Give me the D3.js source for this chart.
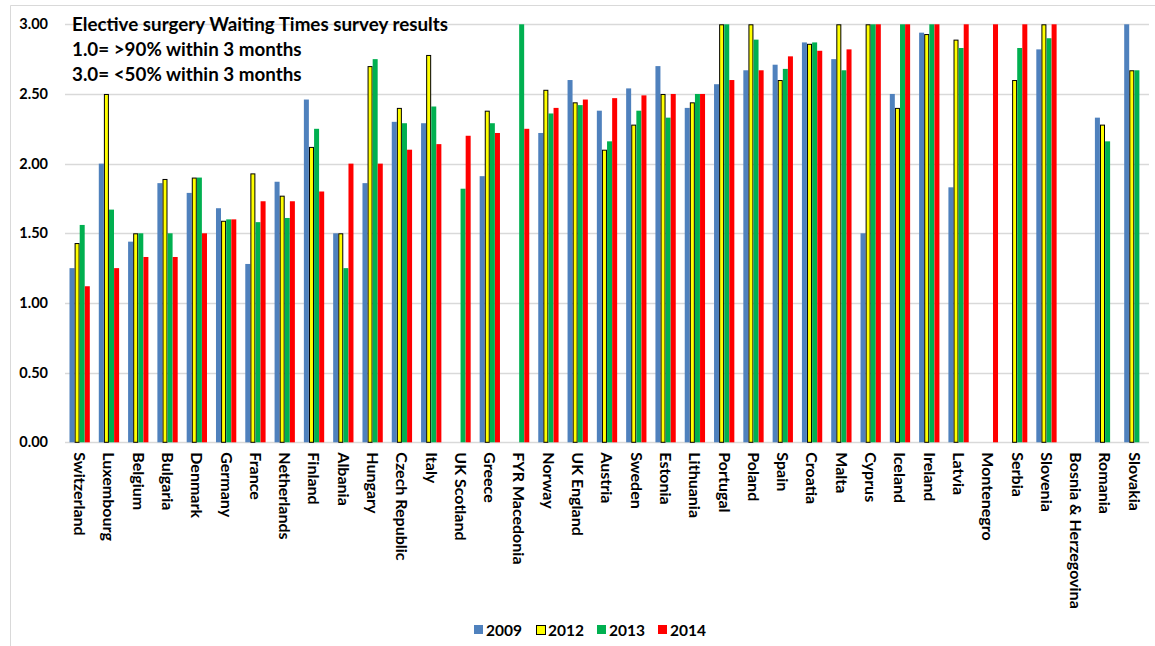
<!DOCTYPE html>
<html><head><meta charset="utf-8">
<script src="https://cdn.jsdelivr.net/npm/d3@7"></script>
<style>
body{margin:0;background:#fff;}
svg{display:block;}
text{font-family:Lato,"Open Sans",sans-serif;font-weight:bold;fill:#000;}
</style></head><body>
<svg id="chart" width="1155" height="646"></svg>
<script>
const countries = ["Switzerland","Luxembourg","Belgium","Bulgaria","Denmark","Germany","France","Netherlands","Finland","Albania","Hungary","Czech Republic","Italy","UK Scotland","Greece","FYR Macedonia","Norway","UK England","Austria","Sweden","Estonia","Lithuania","Portugal","Poland","Spain","Croatia","Malta","Cyprus","Iceland","Ireland","Latvia","Montenegro","Serbia","Slovenia","Bosnia & Herzegovina","Romania","Slovakia"];
const years = ["2009","2012","2013","2014"];
const v2009 = [1.25,2.00,1.44,1.86,1.79,1.68,1.28,1.87,2.46,1.50,1.86,2.30,2.29,null,1.91,null,2.22,2.60,2.38,2.54,2.70,2.40,2.57,2.67,2.71,2.87,2.75,1.50,2.50,2.94,1.83,null,null,2.82,null,2.33,3.00];
const v2012 = [1.43,2.50,1.50,1.89,1.90,1.59,1.93,1.77,2.12,1.50,2.70,2.40,2.78,null,2.38,null,2.53,2.44,2.10,2.28,2.50,2.44,3.00,3.00,2.60,2.86,3.00,3.00,2.40,2.93,2.89,null,2.60,3.00,null,2.28,2.67];
const v2013 = [1.56,1.67,1.50,1.50,1.90,1.60,1.58,1.61,2.25,1.25,2.75,2.29,2.41,1.82,2.29,3.00,2.36,2.42,2.16,2.38,2.33,2.50,3.00,2.89,2.68,2.87,2.67,3.00,3.00,3.00,2.83,null,2.83,2.90,null,2.16,2.67];
const v2014 = [1.12,1.25,1.33,1.33,1.50,1.60,1.73,1.73,1.80,2.00,2.00,2.10,2.14,2.20,2.22,2.25,2.40,2.46,2.47,2.49,2.50,2.50,2.60,2.67,2.77,2.81,2.82,3.00,3.00,3.00,3.00,3.00,3.00,3.00,null,null,null];
const yTicks = [0,0.5,1,1.5,2,2.5,3];
const titleLines = ["Elective surgery Waiting Times survey results","1.0= >90% within 3 months","3.0= <50% within 3 months"];

const seriesValues = [v2009,v2012,v2013,v2014];
const colors = ["#4F81BD","#FFFF00","#00B050","#FF0000"];
const strokes = ["none","#000","none","none"];

const svg = d3.select("#chart");
// outer border
svg.append("path").attr("d","M10.5,646 L10.5,5.5 L1155,5.5").attr("fill","none").attr("stroke","#D9D9D9").attr("stroke-width",1);

const m = {left:65, right:1149, top:24.3, bottom:442.3};
const x = d3.scaleBand().domain(countries).range([m.left,m.right]).paddingInner(0.3).paddingOuter(0.15);
const x1 = d3.scaleBand().domain(years).range([0,x.bandwidth()]).padding(0.02);
const y = d3.scaleLinear().domain([0,3]).range([m.bottom,m.top]);

// gridlines
svg.append("g").selectAll("line").data(yTicks).join("line")
  .attr("x1",m.left).attr("x2",m.right)
  .attr("y1",d=>Math.round(y(d))+0.5).attr("y2",d=>Math.round(y(d))+0.5)
  .attr("stroke","#D9D9D9").attr("stroke-width",1.3);

// y axis labels
const yAxis = d3.axisLeft(y).tickValues(yTicks).tickFormat(d3.format(".2f")).tickSize(0).tickPadding(0);
const ya = svg.append("g").attr("transform","translate(48,0)").call(yAxis);
ya.select(".domain").remove();
ya.selectAll("text").style("font-size","14.5px").style("font-family","Lato, sans-serif").style("font-weight","bold").attr("fill","#000");

// bars
const data = [];
countries.forEach((c,i)=>{
  years.forEach((yr,j)=>{
    const v = seriesValues[j][i];
    if(v!==null) data.push({c,yr,j,v});
  });
});
svg.append("g").selectAll("rect").data(data).join("rect")
  .attr("x",d=>x(d.c)+x1(d.yr)+(d.j===1?0.5:0))
  .attr("y",d=>y(d.v)+(d.j===1?0.5:0))
  .attr("width",d=>x1.bandwidth()-(d.j===1?1:0))
  .attr("height",d=>y(0)-y(d.v)-(d.j===1?0.5:0))
  .attr("fill",d=>colors[d.j])
  .attr("stroke",d=>strokes[d.j])
  .attr("stroke-width",1);

// x labels
const xAxis = d3.axisBottom(x).tickSize(0).tickPadding(0);
const xa = svg.append("g").attr("transform",`translate(0,${m.bottom})`).call(xAxis);
xa.select(".domain").remove();
xa.selectAll("text")
  .attr("transform","rotate(90)")
  .attr("x",10).attr("y",0).attr("dy","0.35em")
  .attr("text-anchor","start")
  .style("font-size","16px").style("font-family","Lato, sans-serif").style("font-weight","bold").attr("fill","#000");

// title
svg.append("g").selectAll("text").data(titleLines).join("text")
  .attr("x",72).attr("y",(d,i)=>31+i*25)
  .style("font-size","18.8px")
  .text(d=>d);

// legend
const legX = [474,536,597,658];
const lg = svg.append("g").selectAll("g").data(years).join("g")
  .attr("transform",(d,i)=>`translate(${legX[i]},625)`);
lg.append("rect").attr("width",9).attr("height",9)
  .attr("x",(d,i)=>i===1?0.5:0).attr("y",(d,i)=>i===1?0.5:0)
  .attr("fill",(d,i)=>colors[i]).attr("stroke",(d,i)=>strokes[i]).attr("stroke-width",1);
lg.append("text").attr("x",12).attr("y",10.5).style("font-size","15.5px").text(d=>d);
</script></body></html>
